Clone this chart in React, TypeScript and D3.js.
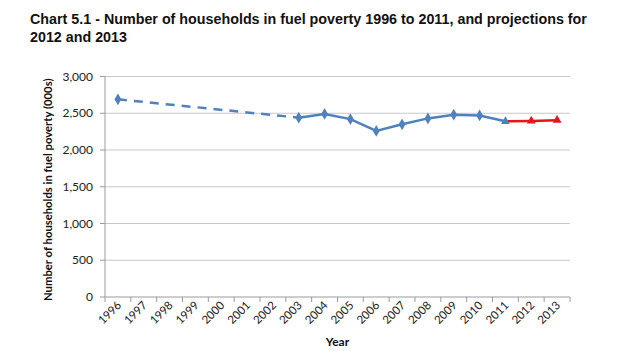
import React from "react";
import * as d3 from "d3";

const years = ["1996","1997","1998","1999","2000","2001","2002","2003","2004","2005","2006","2007","2008","2009","2010","2011","2012","2013"];
const dashedYears = ["1996", "2003"];
const dashedValues = [2690, 2440];
const actualYears = ["2003","2004","2005","2006","2007","2008","2009","2010","2011"];
const actualValues = [2440, 2490, 2420, 2260, 2350, 2430, 2480, 2470, 2390];
const projYears = ["2011", "2012", "2013"];
const projValues = [2390, 2395, 2405];
const yTicks = [0, 500, 1000, 1500, 2000, 2500, 3000];

export default function App() {
  const W = 624, H = 351;
  const left = 105, right = 570, top = 76.5, bottom = 297;
  const x = d3.scaleBand<string>().domain(years).range([left, right]);
  const y = d3.scaleLinear().domain([0, 3000]).range([bottom, top]);
  const cx = (yr: string) => (x(yr) as number) + x.bandwidth() / 2;
  const line = d3.line<[string, number]>().x(d => cx(d[0])).y(d => y(d[1]));
  const blue = "#4F81BD";
  const red = "#E8141B";
  const diamond = d3.symbol().type(d3.symbolDiamond).size(40)() as string;
  const tri = d3.symbol().type(d3.symbolTriangle).size(34)() as string;
  const fmt = d3.format(",");
  const dashed = dashedYears.map((yr, i) => [yr, dashedValues[i]] as [string, number]);
  const actual = actualYears.map((yr, i) => [yr, actualValues[i]] as [string, number]);
  const proj = projYears.map((yr, i) => [yr, projValues[i]] as [string, number]);
  const ticksX = [...years.map(yr => x(yr) as number), right];
  const lf = "Lato, 'Open Sans', sans-serif";

  return (
    <svg width={W} height={H} style={{ position: "absolute", left: 0, top: 0, background: "#fff" }}>
      <text x={30} y={24} fontFamily="Liberation Sans, Arial, sans-serif" fontWeight="bold" fontSize={14.3} fill="#111">
        Chart 5.1 - Number of households in fuel poverty 1996 to 2011, and projections for
      </text>
      <text x={30} y={42} fontFamily="Liberation Sans, Arial, sans-serif" fontWeight="bold" fontSize={14.3} fill="#111">
        2012 and 2013
      </text>
      {yTicks.map(t => (
        <g key={t}>
          {t > 0 && <line x1={left} x2={right} y1={y(t)} y2={y(t)} stroke="#c8c8c8" strokeWidth={1} />}
          <line x1={left - 5} x2={left} y1={y(t)} y2={y(t)} stroke="#9a9a9a" />
          <text x={93} y={y(t) + 4} textAnchor="end" fontFamily={lf} fontSize={12} fill="#222">{fmt(t)}</text>
        </g>
      ))}
      <line x1={left} x2={left} y1={top} y2={bottom} stroke="#9a9a9a" />
      <line x1={left} x2={right} y1={bottom} y2={bottom} stroke="#9a9a9a" />
      {ticksX.map((tx, i) => (
        <line key={i} x1={tx} x2={tx} y1={bottom} y2={bottom + 5} stroke="#9a9a9a" />
      ))}
      {years.map(yr => (
        <text key={yr} transform={`translate(${cx(yr) + 4},${bottom + 9}) rotate(-45)`} textAnchor="end"
          fontFamily={lf} fontSize={11.5} fill="#222">{yr}</text>
      ))}
      <text transform={`translate(52,${(top + bottom) / 2 + 3}) rotate(-90)`} textAnchor="middle"
        fontFamily={lf} fontWeight="bold" fontSize={11.3} fill="#111">
        Number of households in fuel poverty (000s)
      </text>
      <text x={(left + right) / 2} y={346} textAnchor="middle" fontFamily={lf} fontWeight="bold" fontSize={12} fill="#111">Year</text>

      <path d={line(dashed) as string} fill="none" stroke={blue} strokeWidth={2.5} strokeDasharray="9,7" />
      <path d={line(actual) as string} fill="none" stroke={blue} strokeWidth={2.5} />
      <path d={line(proj) as string} fill="none" stroke={red} strokeWidth={2.5} />
      <path d={diamond} transform={`translate(${cx(dashedYears[0])},${y(dashedValues[0])})`} fill={blue} />
      {actual.slice(0, -1).map(d => (
        <path key={d[0]} d={diamond} transform={`translate(${cx(d[0])},${y(d[1])})`} fill={blue} />
      ))}
      {proj.map((d, i) => (
        <path key={d[0]} d={tri} transform={`translate(${cx(d[0])},${y(d[1])})`} fill={i === 0 ? blue : red} />
      ))}
    </svg>
  );
}
